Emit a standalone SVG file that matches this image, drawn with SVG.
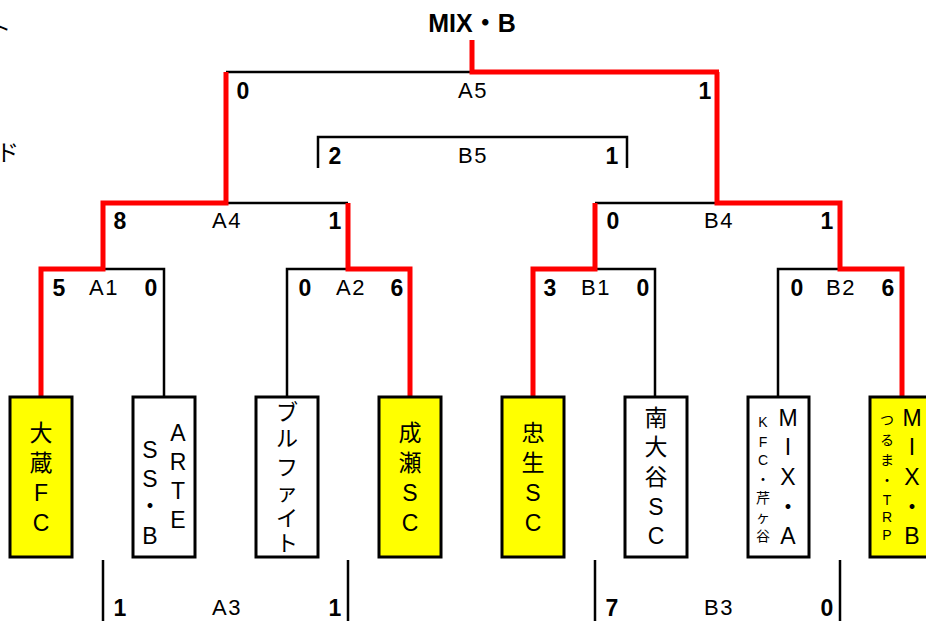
<svg xmlns="http://www.w3.org/2000/svg" width="926" height="621" viewBox="0 0 926 621">
<style>
.bk{stroke:#000;stroke-width:2.5;fill:none}
.rd{stroke:#f00;stroke-width:5;fill:none}
.box{stroke:#000;stroke-width:3}
.win{fill:#ff0}
.lose{fill:#fff}
text{font-family:"Liberation Sans","Noto Sans CJK JP",sans-serif;fill:#000}
.sc{font-size:23px;font-weight:bold;text-anchor:middle}
.lb{font-size:22px;text-anchor:middle;letter-spacing:1.5px}
.nm{font-size:23px;text-anchor:middle}
.sm{font-size:14px;text-anchor:middle}
</style>
<rect width="926" height="621" fill="#fff"/>
<text x="-11" y="36" style="font-size:22px">ト</text>
<text x="-4" y="161" style="font-size:23px">ド</text>
<g id="connectors">
<path class="bk" d="M164,397V269H103 M287,397V269H348 M655,397V269H595 M778,397V269H840"/>
<path class="bk" d="M227,203H348 M595,203H717"/>
<path class="bk" d="M226,72H472"/>
<path class="bk" d="M318,168V137H627V168"/>
<path class="bk" d="M103,560V621 M348,560V621 M595,560V621 M840,560V621"/>
<path class="rd" d="M41,397V269H103V203H226V72 M410,397V269H348V203 M533,397V269H595V203 M902,397V269H840V203H717V72 M472,40V72H719"/>
</g>
<g id="title"><text x="472" y="32" style="font-size:25px;font-weight:bold;text-anchor:middle">MIX・B</text></g>
<g id="scores">
<text class="sc" x="243" y="99">0</text><text class="lb" x="473" y="98">A5</text><text class="sc" x="705" y="99">1</text>
<text class="sc" x="335" y="164">2</text><text class="lb" x="473" y="163">B5</text><text class="sc" x="612" y="164">1</text>
<text class="sc" x="120" y="229">8</text><text class="lb" x="227" y="228">A4</text><text class="sc" x="335" y="229">1</text>
<text class="sc" x="613" y="229">0</text><text class="lb" x="719" y="228">B4</text><text class="sc" x="827" y="229">1</text>
<text class="sc" x="59" y="296">5</text><text class="lb" x="104" y="295">A1</text><text class="sc" x="151" y="296">0</text>
<text class="sc" x="305" y="296">0</text><text class="lb" x="351" y="295">A2</text><text class="sc" x="397" y="296">6</text>
<text class="sc" x="550" y="296">3</text><text class="lb" x="596" y="295">B1</text><text class="sc" x="643" y="296">0</text>
<text class="sc" x="797" y="296">0</text><text class="lb" x="841" y="295">B2</text><text class="sc" x="888" y="296">6</text>
<text class="sc" x="120" y="616">1</text><text class="lb" x="227" y="615">A3</text><text class="sc" x="335" y="616">1</text>
<text class="sc" x="612" y="616">7</text><text class="lb" x="719" y="615">B3</text><text class="sc" x="827" y="616">0</text>
</g>
<g id="team1"><rect class="box win" x="10" y="397" width="62" height="160"/>
<text class="nm" x="41"><tspan x="41" y="441">大</tspan><tspan x="41" y="471">蔵</tspan><tspan x="41" y="501">F</tspan><tspan x="41" y="531">C</tspan></text></g>
<g id="team2"><rect class="box lose" x="133" y="397" width="62" height="160"/>
<text class="nm" x="178"><tspan x="178" y="441">A</tspan><tspan x="178" y="470">R</tspan><tspan x="178" y="499">T</tspan><tspan x="178" y="528">E</tspan></text>
<text class="nm" x="150"><tspan x="150" y="458">S</tspan><tspan x="150" y="487">S</tspan><tspan x="150" y="514">・</tspan><tspan x="150" y="544">B</tspan></text></g>
<g id="team3"><rect class="box lose" x="256" y="397" width="62" height="160"/>
<text class="nm" x="287" style="font-size:22px"><tspan x="287" y="420">ブ</tspan><tspan x="287" y="446">ル</tspan><tspan x="287" y="475">フ</tspan><tspan x="287" y="500">ァ</tspan><tspan x="287" y="526">イ</tspan><tspan x="287" y="551">ト</tspan></text></g>
<g id="team4"><rect class="box win" x="379" y="397" width="62" height="160"/>
<text class="nm" x="410"><tspan x="410" y="441">成</tspan><tspan x="410" y="471">瀬</tspan><tspan x="410" y="501">S</tspan><tspan x="410" y="531">C</tspan></text></g>
<g id="team5"><rect class="box win" x="502" y="397" width="62" height="160"/>
<text class="nm" x="533"><tspan x="533" y="441">忠</tspan><tspan x="533" y="471">生</tspan><tspan x="533" y="501">S</tspan><tspan x="533" y="531">C</tspan></text></g>
<g id="team6"><rect class="box lose" x="625" y="397" width="62" height="160"/>
<text class="nm" x="656"><tspan x="656" y="426">南</tspan><tspan x="656" y="455">大</tspan><tspan x="656" y="485">谷</tspan><tspan x="656" y="515">S</tspan><tspan x="656" y="544">C</tspan></text></g>
<g id="team7"><rect class="box lose" x="748" y="397" width="61" height="160"/>
<text class="nm" x="788"><tspan x="788" y="426">M</tspan><tspan x="788" y="455">I</tspan><tspan x="788" y="485">X</tspan><tspan x="788" y="515">・</tspan><tspan x="788" y="544">A</tspan></text>
<text class="sm" x="763"><tspan x="763" y="427">K</tspan><tspan x="763" y="447">F</tspan><tspan x="763" y="465">C</tspan><tspan x="763" y="484">・</tspan><tspan x="763" y="503">芹</tspan><tspan x="763" y="522">ヶ</tspan><tspan x="763" y="541">谷</tspan></text></g>
<g id="team8"><rect class="box win" x="870" y="397" width="62" height="160"/>
<text class="nm" x="912"><tspan x="912" y="426">M</tspan><tspan x="912" y="455">I</tspan><tspan x="912" y="485">X</tspan><tspan x="912" y="515">・</tspan><tspan x="912" y="544">B</tspan></text>
<text class="sm" x="887"><tspan x="887" y="425">つ</tspan><tspan x="887" y="445">る</tspan><tspan x="887" y="465">ま</tspan><tspan x="887" y="485">・</tspan><tspan x="887" y="505">T</tspan><tspan x="887" y="522">R</tspan><tspan x="887" y="540">P</tspan></text></g>
</svg>
